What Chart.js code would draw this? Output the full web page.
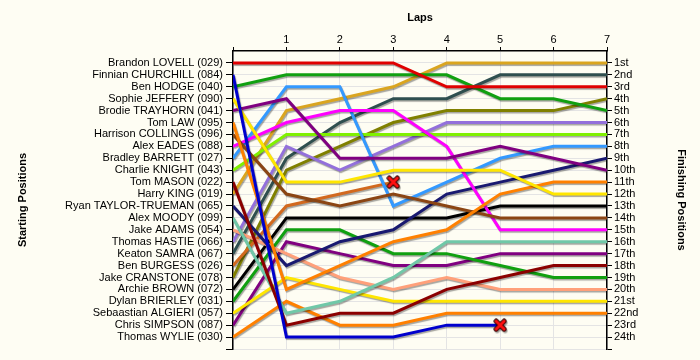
<!DOCTYPE html>
<html><head><meta charset="utf-8">
<script src="https://cdn.jsdelivr.net/npm/chart.js@4.4.1/dist/chart.umd.min.js"></script>
<style>html,body{margin:0;padding:0;background:#fefdf3;}#wrap{width:700px;height:360px;}</style>
</head><body><div id="wrap"><canvas id="c" width="700" height="360"></canvas></div>
<script>
const lapNumbers = [0,1,2,3,4,5,6,7];
const startNames = ["Brandon LOVELL (029)","Finnian CHURCHILL (084)","Ben HODGE (040)","Sophie JEFFERY (090)","Brodie TRAYHORN (041)","Tom LAW (095)","Harrison COLLINGS (096)","Alex EADES (088)","Bradley BARRETT (027)","Charlie KNIGHT (043)","Tom MASON (022)","Harry KING (019)","Ryan TAYLOR-TRUEMAN (065)","Alex MOODY (099)","Jake ADAMS (054)","Thomas HASTIE (066)","Keaton SAMRA (067)","Ben BURGESS (026)","Jake CRANSTONE (078)","Archie BROWN (072)","Dylan BRIERLEY (031)","Sebaastian ALGIERI (057)","Chris SIMPSON (087)","Thomas WYLIE (030)"];
const finishLabels = ["1st","2nd","3rd","4th","5th","6th","7th","8th","9th","10th","11th","12th","13th","14th","15th","16th","17th","18th","19th","20th","21st","22nd","23rd","24th"];

const posLovell = [1,1,1,1,3,3,3,3];
const posChurchill = [2,24,24,24,23,23];
const posHodge = [3,2,2,2,2,4,4,5];
const posJeffery = [4,11,11,10,10,10,12,12];
const posTrayhorn = [5,4,9,9,9,8,9,10];
const posLaw = [6,20,18,16,15,12,11,11];
const posCollings = [7,12,13,12,13,14,14,14];
const posEades = [8,6,5,5,8,15,15,15];
const posBarrett = [9,3,3,13,11,9,8,8];
const posKnight = [10,7,7,7,7,7,7,7];
const posMason = [11,23,22,22,20,19,18,18];
const posKing = [12,5,4,3,1,1,1,1];
const posTaylorTrueman = [13,18,16,15,12,11,10,9];
const posMoody = [14,22,21,19,16,16,16,16];
const posAdams = [15,17,19,20,19,20,20,20];
const posHastie = [16,8,10,8,6,6,6,6];
const posSamra = [17,9,6,4,4,2,2,2];
const posBurgess = [18,13,12,11];
const posCranstone = [19,10,8,6,5,5,5,4];
const posBrown = [20,14,14,14,14,13,13,13];
const posBrierley = [21,15,15,17,17,18,19,19];
const posAlgieri = [22,19,20,21,21,21,21,21];
const posSimpson = [23,16,17,18,18,17,17,17];
const posWylie = [24,21,23,23,22,22,22,22];

const driverSeries = [posLovell,posChurchill,posHodge,posJeffery,posTrayhorn,posLaw,posCollings,posEades,posBarrett,posKnight,posMason,posKing,posTaylorTrueman,posMoody,posAdams,posHastie,posSamra,posBurgess,posCranstone,posBrown,posBrierley,posAlgieri,posSimpson,posWylie];
const lineColors = ["#e00000","#0000cd","#10a010","#ffe600","#800080","#ff8000","#8b4513","#ff00ff","#3399ff","#80f000","#8b0000","#daa520","#191970","#70c8a8","#ffa07a","#9370db","#2f4f4f","#d2691e","#808000","#000000","#10a010","#ffe600","#800080","#ff8000"];

// retired marker
const xMark = document.createElement('canvas');
xMark.width = 14; xMark.height = 14;
(function(){
  const g = xMark.getContext('2d');
  g.lineCap = 'round';
  g.beginPath(); g.moveTo(3,3); g.lineTo(11,11); g.moveTo(11,3); g.lineTo(3,11);
  g.strokeStyle = '#300'; g.lineWidth = 5; g.stroke();
  g.strokeStyle = '#ff1010'; g.lineWidth = 3; g.stroke();
})();

const datasets = driverSeries.map((s, i) => {
  const retired = s.length < lapNumbers.length;
  return {
    label: startNames[i],
    data: s.map((p, k) => ({x: lapNumbers[k], y: p})),
    borderColor: lineColors[i],
    backgroundColor: lineColors[i],
    borderWidth: 3,
    tension: 0,
    fill: false,
    pointRadius: s.map((p, k) => (retired && k === s.length - 1) ? 7 : 0),
    pointStyle: s.map((p, k) => (retired && k === s.length - 1) ? xMark : 'circle'),
    pointHoverRadius: 0
  };
});

const FONT = "'Liberation Sans', Arial, sans-serif";
const bgPlugin = {
  id: 'bg',
  beforeDraw(chart) {
    const c = chart.ctx; c.save(); c.fillStyle = '#fefdf3';
    c.fillRect(0, 0, chart.width, chart.height); c.restore();
  },
  beforeDatasetsDraw(chart) {
    const c = chart.ctx; c.save();
    c.shadowColor = 'rgba(0,0,0,0.35)'; c.shadowOffsetX = 1; c.shadowOffsetY = 1.5; c.shadowBlur = 1;
  },
  afterDatasetsDraw(chart) { chart.ctx.restore(); }
};

const posTicks = (scale) => { scale.ticks = []; for (let p = 1; p <= 25; p++) scale.ticks.push({value: p}); };

new Chart(document.getElementById('c'), {
  type: 'line',
  data: { datasets },
  plugins: [bgPlugin],
  options: {
    responsive: false,
    animation: false,
    devicePixelRatio: 1,
    layout: { padding: { left: 0, right: 0, top: 0, bottom: 11 } },
    plugins: { legend: { display: false }, tooltip: { enabled: false } },
    scales: {
      x: {
        type: 'linear', position: 'top', min: 0, max: 7,
        afterFit: (s) => { s.height = 51; },
        ticks: { stepSize: 1, color: '#000', padding: 0, font: { family: FONT, size: 11 },
                 callback: (v) => v === 0 ? '' : String(v) },
        grid: { color: '#e4e4e4', lineWidth: 1, tickColor: '#000', tickLength: 4 },
        border: { color: '#000', width: 1.5 },
        title: { display: true, text: 'Laps', color: '#000', font: { family: FONT, size: 11, weight: 'bold' }, padding: { top: 11, bottom: 0 } }
      },
      y: {
        type: 'linear', position: 'left', reverse: true, min: 0, max: 25,
        afterFit: (s) => { s.width = 233; },
        afterBuildTicks: posTicks,
        ticks: { color: '#000', padding: 3, autoSkip: false, font: { family: FONT, size: 11 },
                 callback: (v) => (v >= 1 && v <= 24) ? startNames[v - 1] : '' },
        grid: { color: '#e4e4e4', lineWidth: 1, tickColor: '#000', tickLength: 7 },
        border: { color: '#000', width: 1.5 },
        title: { display: true, text: 'Starting Positions', color: '#000', font: { family: FONT, size: 11, weight: 'bold' }, padding: { top: 16, bottom: 0 } }
      },
      y2: {
        type: 'linear', position: 'right', reverse: true, min: 0, max: 25,
        afterFit: (s) => { s.width = 93; },
        afterBuildTicks: posTicks,
        ticks: { color: '#000', padding: 2, autoSkip: false, font: { family: FONT, size: 11 },
                 callback: (v) => (v >= 1 && v <= 24) ? finishLabels[v - 1] : '' },
        grid: { drawOnChartArea: false, tickColor: '#000', tickLength: 5 },
        border: { color: '#000', width: 1.5 },
        title: { display: true, text: 'Finishing Positions', color: '#000', font: { family: FONT, size: 11, weight: 'bold' }, padding: { top: 12, bottom: 0 } }
      }
    }
  }
});
</script>
</body></html>
